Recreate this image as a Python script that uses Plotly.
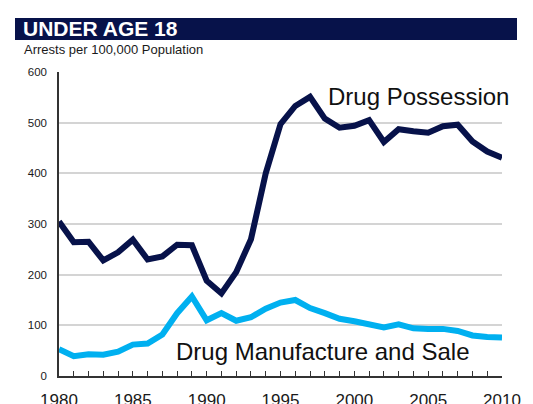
import plotly.graph_objects as go

years = list(range(1980, 2011))
possession = [305, 264, 265, 228, 244, 269, 230, 236, 259, 258, 188, 163, 205, 270, 400,
              497, 533, 551, 508, 490, 494, 505, 462, 487, 483, 480, 493, 496, 463, 443, 431]
manufacture = [53, 39, 43, 42, 48, 62, 64, 82, 124, 157, 110, 124, 109, 116, 133,
               145, 150, 134, 124, 113, 108, 101, 96, 102, 94, 93, 93, 89, 80, 77, 76]
x_ticks = [1980, 1985, 1990, 1995, 2000, 2005, 2010]
y_ticks = [0, 100, 200, 300, 400, 500, 600]

DARK = "#07124a"
LIGHT = "#00b0f0"
FONT = "Liberation Sans, Arial, sans-serif"

W, H = 525, 396
L, R, T, B = 51, 31, 64, 28
PW, PH = W - L - R, H - T - B


def px(xf):
    return (xf - L) / PW


def py(yf):
    return (H - B - yf) / PH


fig = go.Figure()
fig.add_trace(go.Scatter(x=years, y=possession, mode="lines",
                         line=dict(color=DARK, width=6), showlegend=False))
fig.add_trace(go.Scatter(x=years, y=manufacture, mode="lines",
                         line=dict(color=LIGHT, width=6), showlegend=False))

fig.update_layout(
    width=W, height=H,
    margin=dict(l=L, r=R, t=T, b=B, autoexpand=False),
    paper_bgcolor="white", plot_bgcolor="white",
    font=dict(family=FONT, color="#1a1a1a"),
    xaxis=dict(range=[1980, 2010], tickvals=x_ticks, ticktext=[str(v) for v in x_ticks],
               showgrid=False, zeroline=False, showline=True, linecolor="#333333", linewidth=1.5,
               ticks="inside", ticklen=5, tickcolor="#333333", tickfont=dict(size=17),
               ticklabelstandoff=8, automargin=False,
               minor=dict(ticks="inside", ticklen=5, tickcolor="#333333", dtick=1, showgrid=False)),
    yaxis=dict(range=[0, 600], tickvals=y_ticks, showgrid=True, gridcolor="#d4d4d4", gridwidth=1.5,
               zeroline=False, showline=True, linecolor="#333333", linewidth=1.5,
               ticks="", tickfont=dict(size=11.5), ticklabelstandoff=8, automargin=False),
    shapes=[dict(type="rect", xref="paper", yref="paper",
                 x0=px(7), x1=px(509), y0=py(32), y1=py(10),
                 fillcolor=DARK, line=dict(width=0), layer="below")],
    annotations=[
        dict(text="<b>UNDER AGE 18</b>", xref="paper", yref="paper",
             x=px(13), y=py(21), xanchor="left", yanchor="middle",
             showarrow=False, font=dict(size=21, color="white", family=FONT)),
        dict(text="Arrests per 100,000 Population", xref="paper", yref="paper",
             x=px(14), y=py(41), xanchor="left", yanchor="middle",
             showarrow=False, font=dict(size=13, color="#1a1a1a", family=FONT)),
        dict(text="Drug Possession", x=2004.35, y=551, xref="x", yref="y",
             showarrow=False, font=dict(size=24, color="#111111", family=FONT)),
        dict(text="Drug Manufacture and Sale", x=1997.85, y=49, xref="x", yref="y",
             showarrow=False, font=dict(size=24, color="#111111", family=FONT)),
    ],
)

fig.write_html("out.html")
